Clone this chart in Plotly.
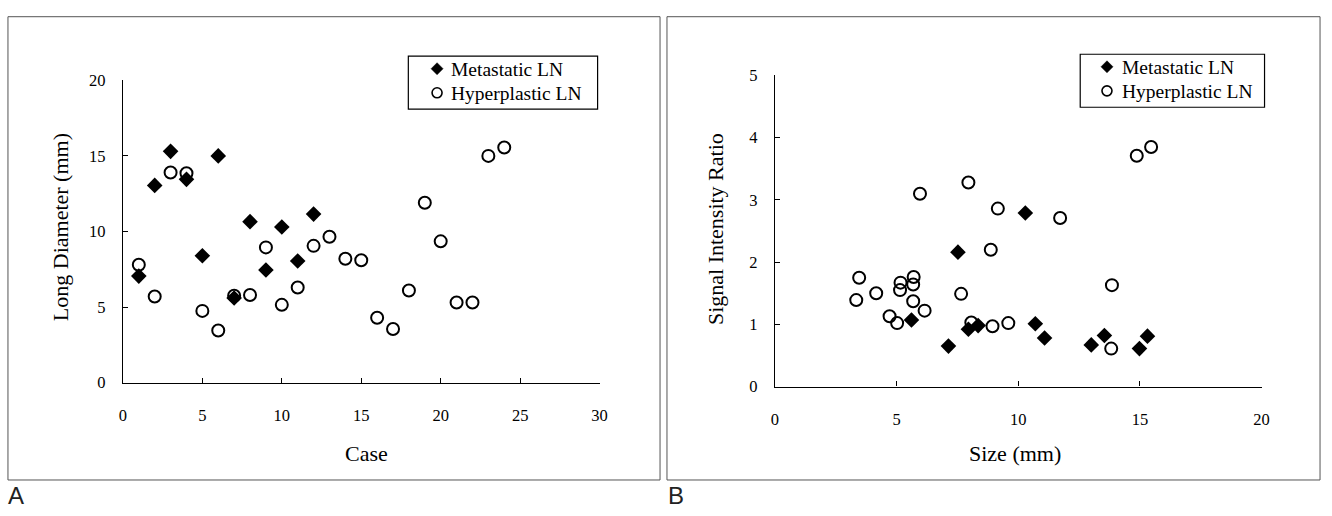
import plotly.graph_objects as go

# ---- Panel A data: Case vs Long Diameter (mm)
met_case = [1, 2, 3, 4, 5, 6, 7, 8, 9, 10, 11, 12]
met_diam = [7.05, 13.05, 15.3, 13.45, 8.4, 15.0, 5.6, 10.65, 7.45, 10.3, 8.05, 11.15]
hyp_case = list(range(1, 25))
hyp_diam = [7.8, 5.7, 13.9, 13.85, 4.75, 3.45, 5.75, 5.8, 8.95, 5.15, 6.3, 9.05,
            9.65, 8.2, 8.1, 4.3, 3.55, 6.1, 11.9, 9.35, 5.3, 5.3, 15.0, 15.55]

# ---- Panel B data: Size (mm) vs Signal Intensity Ratio
met_size = [5.61, 7.13, 7.52, 7.95, 8.35, 10.29, 10.70, 11.08, 13.0, 13.54, 14.98, 15.31]
met_sir = [1.07, 0.65, 2.16, 0.92, 0.98, 2.79, 1.01, 0.78, 0.67, 0.82, 0.61, 0.81]
hyp_size = [3.34, 3.46, 4.16, 4.71, 5.02, 5.16, 5.14, 5.70, 5.68, 5.68, 6.15, 5.96,
            7.65, 7.95, 8.07, 8.87, 8.94, 9.16, 9.59, 11.72, 13.82, 13.85, 14.87, 15.46]
hyp_sir = [1.39, 1.75, 1.50, 1.13, 1.02, 1.67, 1.55, 1.76, 1.64, 1.37, 1.22, 3.10,
           1.49, 3.28, 1.03, 2.20, 0.97, 2.86, 1.02, 2.71, 0.61, 1.63, 3.71, 3.85]

series_names = ["Metastatic LN", "Hyperplastic LN"]
a_xticks = [0, 5, 10, 15, 20, 25, 30]
a_yticks = [0, 5, 10, 15, 20]
b_xticks = [0, 5, 10, 15, 20]
b_yticks = [0, 1, 2, 3, 4, 5]

W, H = 1332, 516
SERIF = "Liberation Serif, Times New Roman, serif"


def px(x):
    return x / W


def py(y):
    return 1 - y / H


diamond = dict(symbol="diamond", size=12, color="black")
circle = dict(symbol="circle-open", size=12, color="black", line=dict(width=2, color="black"))

fig = go.Figure()
fig.add_trace(go.Scatter(x=met_case, y=met_diam, mode="markers", name=series_names[0],
                         marker=diamond, xaxis="x", yaxis="y", cliponaxis=False))
fig.add_trace(go.Scatter(x=hyp_case, y=hyp_diam, mode="markers", name=series_names[1],
                         marker=circle, xaxis="x", yaxis="y", cliponaxis=False))
fig.add_trace(go.Scatter(x=met_size, y=met_sir, mode="markers", name=series_names[0],
                         marker=diamond, xaxis="x2", yaxis="y2", cliponaxis=False))
fig.add_trace(go.Scatter(x=hyp_size, y=hyp_sir, mode="markers", name=series_names[1],
                         marker=circle, xaxis="x2", yaxis="y2", cliponaxis=False))

axis_common = dict(showline=True, linecolor="black", linewidth=1.3, showgrid=False, zeroline=False,
                   ticks="inside", ticklen=5, tickwidth=1, tickcolor="black",
                   tickfont=dict(family=SERIF, size=16.5, color="black"))

fig.update_layout(
    width=W, height=H,
    margin=dict(l=0, r=0, t=0, b=0),
    paper_bgcolor="white", plot_bgcolor="white",
    showlegend=False,
    xaxis=dict(domain=[px(120), px(601)], range=[0, 30], tickvals=a_xticks, anchor="y",
               ticklabelstandoff=17, **axis_common),
    yaxis=dict(domain=[py(388), py(74)], range=[0, 20], tickvals=a_yticks, anchor="x",
               ticklabelstandoff=13, **axis_common),
    xaxis2=dict(domain=[px(778), px(1269)], range=[0, 20], tickvals=b_xticks, anchor="y2",
                ticklabelstandoff=17, **axis_common),
    yaxis2=dict(domain=[py(392), py(69)], range=[0, 5], tickvals=b_yticks, anchor="x2",
                ticklabelstandoff=13, **axis_common),
)

# Panel borders
for x0, x1 in [(4, 662), (669, 1328)]:
    fig.add_shape(type="rect", xref="paper", yref="paper",
                  x0=px(x0), x1=px(x1), y0=py(489), y1=py(8),
                  line=dict(color="#555555", width=1))

# Legends (boxed key with marker glyphs and labels)
legend_boxes = [
    # box x0, x1, y0(top), y1(bottom), marker x, text x, row1 y, row2 y
    (408, 599, 49, 104, 437, 449, 62, 87),
    (1086, 1272, 47, 102, 1113, 1126, 60, 85),
]
for bx0, bx1, by0, by1, mx, tx, r1, r2 in legend_boxes:
    fig.add_shape(type="rect", xref="paper", yref="paper",
                  x0=px(bx0), x1=px(bx1), y0=py(by1), y1=py(by0),
                  line=dict(color="black", width=1.2), fillcolor="white", layer="above")
    fig.add_shape(type="path", xref="paper", yref="paper",
                  xsizemode="pixel", ysizemode="pixel", xanchor=px(mx), yanchor=py(r1),
                  path="M -6 0 L 0 6 L 6 0 L 0 -6 Z",
                  fillcolor="black", line=dict(color="black", width=0.5), layer="above")
    fig.add_shape(type="circle", xref="paper", yref="paper",
                  xsizemode="pixel", ysizemode="pixel", xanchor=px(mx), yanchor=py(r2),
                  x0=-5, x1=5, y0=-5, y1=5,
                  fillcolor="white", line=dict(color="black", width=1.6), layer="above")
    for name, ry in zip(series_names, [r1, r2]):
        fig.add_annotation(text=name, x=px(tx), y=py(ry + 1), xref="paper", yref="paper",
                           showarrow=False, xanchor="left", yanchor="middle",
                           font=dict(family=SERIF, size=19.5, color="black"))

# Axis titles
titles = [
    ("Long Diameter (mm)", 57, 226, -90),
    ("Case", 366, 461, 0),
    ("Signal Intensity Ratio", 718, 229, -90),
    ("Size (mm)", 1020, 461, 0),
]
for text, x, y, ang in titles:
    fig.add_annotation(text=text, x=px(x), y=py(y), xref="paper", yref="paper",
                       showarrow=False, textangle=ang, xanchor="center", yanchor="middle",
                       font=dict(family=SERIF, size=22, color="black"))

# Panel letters
for text, x, y in [("A", 12, 505), ("B", 678, 505)]:
    fig.add_annotation(text=text, x=px(x), y=py(y), xref="paper", yref="paper",
                       showarrow=False, xanchor="center", yanchor="middle",
                       font=dict(family="Liberation Sans Narrow, Liberation Sans, sans-serif",
                                 size=24, color="#222222"))

page_fix = (
    "var g=document.getElementsByClassName('plotly-graph-div')[0];"
    "if(g){g.style.position='absolute';g.style.top='0px';g.style.left='0px';}"
    "document.documentElement.style.cssText='margin:0;padding:0;overflow:hidden;height:516px;';"
    "document.body.style.cssText='margin:0;padding:0;overflow:hidden;height:516px;';"
)

fig.write_html("out.html", config={"displayModeBar": False}, post_script=page_fix)
